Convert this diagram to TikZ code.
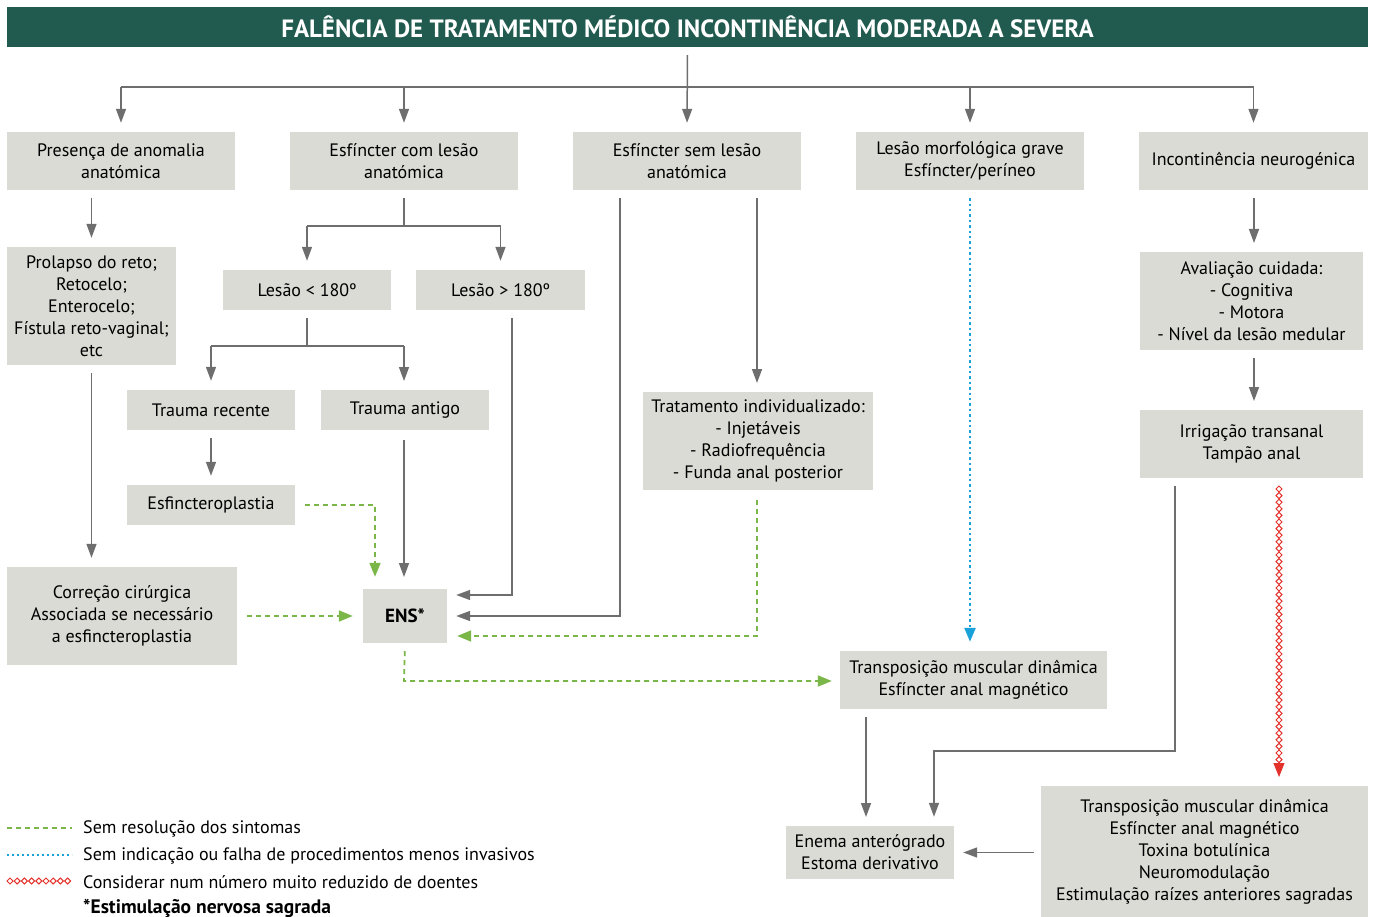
\documentclass[tikz,border=0pt]{standalone}
\usepackage{fontspec}
\setmainfont{PT Sans}
\usetikzlibrary{arrows.meta,decorations.shapes,shapes.geometric,calc}
\definecolor{titlegreen}{HTML}{215A4E}
\definecolor{boxgray}{HTML}{D9DBD4}
\definecolor{arrgray}{HTML}{6E6E6E}
\definecolor{dgreen}{HTML}{7AB648}
\definecolor{dblue}{HTML}{1BA1DA}
\definecolor{dred}{HTML}{E3322B}
\tikzset{
  box/.style={fill=boxgray, align=center, inner sep=0pt, font=\fontsize{18}{22}\selectfont},
  arr/.style={draw=arrgray, line width=1.5pt, -{Triangle[width=10pt,length=14pt]}, shorten >=9pt, shorten <=8pt},
  plain/.style={draw=arrgray, line width=1.5pt},
  gdash/.style={draw=dgreen, line width=1.8pt, dash pattern=on 5pt off 4pt, -{Triangle[width=11pt,length=14pt]}, shorten >=10pt, shorten <=10pt},
  bdot/.style={draw=dblue, line width=2.4pt, dash pattern=on 2.4pt off 3pt, -{Triangle[width=11pt,length=14pt]}, shorten >=9pt, shorten <=8pt},
  rdiam/.style={draw=dred, line width=1pt, decorate, decoration={shape backgrounds, shape=diamond, shape size=6pt, shape sep={6.6pt, between centers}}},
  legtext/.style={anchor=west, inner sep=0pt, font=\fontsize{18}{22}\selectfont},
}
\begin{document}
\begin{tikzpicture}[x=1pt,y=-1pt]
\useasboundingbox (0,0) rectangle (1376,917);
% title
\node[fill=titlegreen, minimum width=1361pt, minimum height=40pt, inner sep=0pt, text=white, font=\fontsize{25}{28}\bfseries\selectfont] (title) at (687.5,27) {FALÊNCIA DE TRATAMENTO MÉDICO INCONTINÊNCIA MODERADA A SEVERA};
% level 1
\node[box, minimum width=228pt, minimum height=58pt] (b1) at (121,161) {Presença de anomalia\\anatómica};
\node[box, minimum width=228pt, minimum height=58pt] (b2) at (404,161) {Esfíncter com lesão\\anatómica};
\node[box, minimum width=228pt, minimum height=58pt] (b3) at (687,161) {Esfíncter sem lesão\\anatómica};
\node[box, minimum width=228pt, minimum height=58pt] (b4) at (970,161) {Lesão morfológica grave\\Esfíncter/períneo};
\node[box, minimum width=229pt, minimum height=58pt] (b5) at (1253.5,161) {Incontinência neurogénica};
% others
\node[box, minimum width=169pt, minimum height=118pt] (prol) at (91.5,306) {Prolapso do reto;\\Retocelo;\\Enterocelo;\\Fístula reto-vaginal;\\etc};
\node[box, minimum width=230pt, minimum height=98pt] (corr) at (122,616) {Correção cirúrgica\\Associada se necessário\\a esfincteroplastia};
\node[box, minimum width=168pt, minimum height=40pt] (l1) at (307,290) {Lesão < 180º};
\node[box, minimum width=169pt, minimum height=40pt] (l2) at (500.5,290) {Lesão > 180º};
\node[box, minimum width=168pt, minimum height=40pt] (tr) at (211,410) {Trauma recente};
\node[box, minimum width=168pt, minimum height=40pt] (ta) at (405,410) {Trauma antigo};
\node[box, minimum width=168pt, minimum height=40pt] (esf) at (211,505) {Esfincteroplastia};
\node[box, minimum width=84pt, minimum height=54pt, font=\fontsize{19}{22}\bfseries\selectfont] (ens) at (405,616) {ENS*};
\node[box, minimum width=230pt, minimum height=98pt] (trat) at (758,441) {Tratamento individualizado:\\- Injetáveis\\- Radiofrequência\\- Funda anal posterior};
\node[box, minimum width=223pt, minimum height=98pt] (aval) at (1251.5,301) {Avaliação cuidada:\\- Cognitiva\\- Motora\\- Nível da lesão medular};
\node[box, minimum width=223pt, minimum height=68pt] (irr) at (1251.5,444) {Irrigação transanal\\Tampão anal};
\node[box, minimum width=267pt, minimum height=58pt] (trans) at (973.5,680) {Transposição muscular dinâmica\\Esfíncter anal magnético};
\node[box, minimum width=168pt, minimum height=53pt] (enema) at (870,852.5) {Enema anterógrado\\Estoma derivativo};
\node[box, minimum width=327pt, minimum height=131pt] (br) at (1204.5,851.5) {Transposição muscular dinâmica\\Esfíncter anal magnético\\Toxina botulínica\\Neuromodulação\\Estimulação raízes anteriores sagradas};
% top fork
\coordinate (fork) at (687,87);
\draw[arr] (title.south) -- (b3.north);
\draw[plain] (b1.north |- fork) -- (b5.north |- fork);
\foreach \n in {b1,b2,b4,b5} \draw[arr, shorten <=0pt] (\n.north |- fork) -- (\n.north);
% column 1
\draw[arr] (prol.north |- b1.south) -- (prol.north);
\draw[arr] (prol.south) -- (prol.south |- corr.north);
% column 2
\coordinate (f2) at (404,226);
\draw[plain, shorten <=8pt] (b2.south) -- (f2);
\draw[plain] (l1.north |- f2) -- (l2.north |- f2);
\draw[arr, shorten <=0pt] (l1.north |- f2) -- (l1.north);
\draw[arr, shorten <=0pt] (l2.north |- f2) -- (l2.north);
\coordinate (f3) at (307,346);
\draw[plain, shorten <=8pt] (l1.south) -- (f3);
\draw[plain] (tr.north |- f3) -- (404,346);
\draw[arr, shorten <=0pt] (tr.north |- f3) -- (tr.north);
\draw[arr, shorten <=0pt] (404,346) -- (404,390);
\draw[arr] (tr.south) -- (esf.north);
\coordinate (c1) at (375,505);
\draw[gdash, shorten >=12pt] (esf.east) -- (c1) -- (c1 |- ens.north);
\draw[arr, shorten <=10pt, shorten >=12pt] (404,430) -- (404,589);
\coordinate (c2) at (512,595);
\draw[arr] (c2 |- l2.south) -- (c2) -- (ens.east |- c2);
\coordinate (c3) at (620,616);
\draw[arr] (c3 |- b3.south) -- (c3) -- (ens.east);
\draw[arr] (757,190) -- (757,392);
\coordinate (c4) at (757,636);
\draw[gdash] (c4 |- trat.south) -- (c4) -- (ens.east |- c4);
\draw[gdash] (corr.east) -- (ens.west);
\coordinate (c5) at (404,681);
\draw[gdash, shorten >=8pt, shorten <=8pt] (ens.south) -- (c5) -- (trans.west |- c5);
% column 4
\draw[bdot] (b4.south) -- (b4.south |- trans.north);
% column 5
\draw[arr] (b5.south -| 1254,0) -- (1254,252);
\draw[arr] (1254,350) -- (1254,410);
\coordinate (c6) at (1175,751);
\coordinate (c7) at (934,751);
\draw[arr] (c6 |- irr.south) -- (c6) -- (c7) -- (c7 |- enema.north);
\coordinate (c8) at (1279,478);
\coordinate (c9) at (1279,786);
\path[rdiam] ($(c8)+(0,11)$) -- ($(c9)+(0,-19)$);
\draw[draw=dred, line width=1pt, -{Triangle[width=11pt,length=14pt]}, shorten >=9pt] ($(c9)+(0,-24)$) -- (c9);
\draw[arr] (866,709) -- (866,826);
\draw[arr, shorten <=7pt] (br.west |- enema) -- (enema.east);
% legend
\coordinate (lg1) at (7,828);
\coordinate (lg2) at (7,855);
\coordinate (lg3) at (7,881);
\draw[draw=dgreen, line width=1.5pt, dash pattern=on 5pt off 4pt] (lg1) -- ++(65,0);
\draw[draw=dblue, line width=2pt, dash pattern=on 2pt off 3pt] (lg2) -- ++(65,0);
\path[rdiam, decoration={shape backgrounds, shape=diamond, shape size=6pt, shape sep={7.2pt, between centers}}] ($(lg3)+(3,0)$) -- ++(62,0);
\node[legtext] (t1) at (83,829) {Sem resolução dos sintomas};
\node[legtext] (t2) at (83,856) {Sem indicação ou falha de procedimentos menos invasivos};
\node[legtext] (t3) at (83,882) {Considerar num número muito reduzido de doentes};
\node[legtext, font=\fontsize{19.5}{22}\bfseries\selectfont] (t4) at (83,908) {*Estimulação nervosa sagrada};
\end{tikzpicture}
\end{document}
